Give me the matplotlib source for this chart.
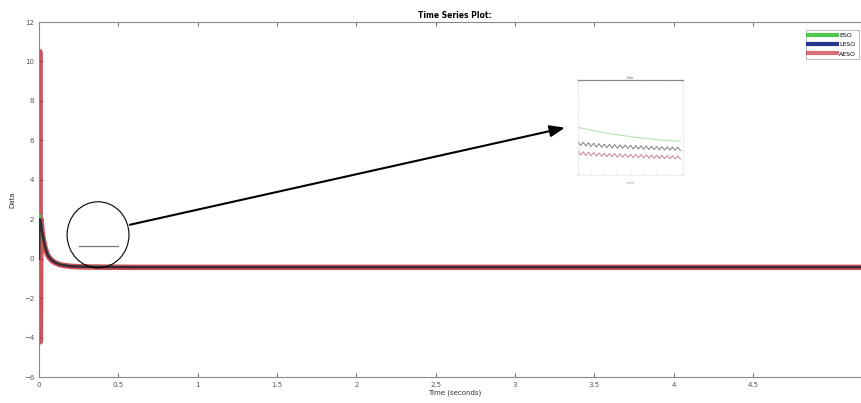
import numpy as np
from matplotlib import pyplot as plt
from matplotlib.patches import Ellipse

# main series (Time Series Plot)
t = [0.0, 0.004, 0.008, 0.012, 0.02, 0.03, 0.04, 0.05, 0.06, 0.08, 0.1, 0.13, 0.16, 0.2, 0.25, 0.3, 0.4, 0.6, 1.0, 2.0, 3.0, 4.0, 5.3]
eso = [0.0, 2.2, 2.1, 1.9, 1.4, 0.95, 0.6, 0.35, 0.15, -0.05, -0.17, -0.27, -0.33, -0.37, -0.39, -0.4, -0.41, -0.42, -0.42, -0.42, -0.42, -0.42, -0.42]
leso = [0.0, 2.0, 2.0, 1.85, 1.35, 0.9, 0.55, 0.3, 0.12, -0.07, -0.19, -0.29, -0.34, -0.38, -0.4, -0.41, -0.42, -0.43, -0.43, -0.43, -0.43, -0.43, -0.43]
aeso = [-4.2, 10.5, -4.2, 2.0, 1.3, 0.85, 0.5, 0.27, 0.1, -0.09, -0.2, -0.3, -0.35, -0.39, -0.41, -0.42, -0.43, -0.44, -0.44, -0.44, -0.44, -0.44, -0.44]

# zoomed inset (arbitrary units)
ins_x = np.arange(40)
ins_eso = [0.50, 0.495, 0.49, 0.484, 0.478, 0.472, 0.466, 0.46, 0.455, 0.45, 0.445, 0.44, 0.436, 0.432, 0.428, 0.424, 0.42, 0.416, 0.412, 0.408,
           0.404, 0.40, 0.397, 0.394, 0.391, 0.388, 0.385, 0.382, 0.379, 0.376, 0.373, 0.37, 0.368, 0.366, 0.364, 0.362, 0.36, 0.358, 0.356, 0.354]
ins_leso = [0.35, 0.31, 0.345, 0.305, 0.34, 0.30, 0.335, 0.295, 0.33, 0.29, 0.325, 0.288, 0.322, 0.285, 0.32, 0.282, 0.318, 0.28, 0.315, 0.278,
            0.312, 0.275, 0.31, 0.273, 0.308, 0.271, 0.305, 0.269, 0.303, 0.267, 0.30, 0.265, 0.298, 0.263, 0.296, 0.262, 0.294, 0.26, 0.292, 0.258]
ins_aeso = [0.25, 0.21, 0.245, 0.205, 0.24, 0.202, 0.236, 0.199, 0.233, 0.196, 0.23, 0.193, 0.227, 0.191, 0.225, 0.189, 0.223, 0.187, 0.221, 0.185,
            0.219, 0.183, 0.217, 0.181, 0.215, 0.179, 0.213, 0.177, 0.211, 0.175, 0.209, 0.174, 0.207, 0.172, 0.205, 0.171, 0.204, 0.169, 0.202, 0.168]

xticks = [0, 0.5, 1, 1.5, 2, 2.5, 3, 3.5, 4, 4.5]
xticklabels = ["0", "0.5", "1", "1.5", "2", "2.5", "3", "3.5", "4", "4.5"]
yticks = [-6, -4, -2, 0, 2, 4, 6, 8, 10, 12]

green = "#4fc84f"
blue = "#27348b"
red = "#c8323c"

fig = plt.figure(figsize=(8.61, 4.03), dpi=100)
ax = fig.add_axes([39/861, 26/403, 831/861, 355/403])

ax.plot(t, aeso, color=red, lw=4, alpha=0.85, zorder=2)
ax.plot(t, eso, color=green, lw=1.5, zorder=3)
ax.plot(t, leso, color="#3a2638", lw=1.8, zorder=4)

ax.set_xlim(0, 831/158.7)
ax.set_ylim(-6, 12)
ax.set_xticks(xticks)
ax.set_xticklabels(xticklabels)
ax.set_yticks(yticks)
ax.tick_params(direction="in", top=True, right=True, labelsize=5, colors="#555555", length=3, width=0.6)
for s in ax.spines.values():
    s.set_color("#888888")
    s.set_linewidth(0.8)

ax.set_title("Time Series Plot:", fontsize=5.5, fontweight="bold", pad=3)
ax.set_xlabel("Time (seconds)", fontsize=5, labelpad=1, color="#333333")
ax.set_ylabel("Data", fontsize=5, labelpad=6, color="#333333")

# legend (proxy lines)
h1, = ax.plot([], [], color=green, lw=3, label="ESO")
h2, = ax.plot([], [], color=blue, lw=3, label="LESO")
h3, = ax.plot([], [], color=red, lw=3, alpha=0.7, label="AESO")
leg = ax.legend(handles=[h1, h2, h3], loc="upper right", bbox_to_anchor=(0.99, 0.985), fontsize=4.5,
                frameon=True, fancybox=False, edgecolor="#999999", handlelength=4.5,
                borderpad=0.4, labelspacing=0.6, handletextpad=0.4)
leg.get_frame().set_linewidth(0.6)

# ellipse marking the zoomed region
ax.add_patch(Ellipse((0.372, 1.21), 0.39, 3.35, fill=False, edgecolor="black", lw=0.8, zorder=5))
ax.plot([0.25, 0.5], [0.65, 0.65], color="#777777", lw=0.9, zorder=5)

# arrow to inset
ax.annotate("", xy=(3.314, 6.64), xytext=(0.573, 1.72),
            arrowprops=dict(arrowstyle="-|>,head_length=0.9,head_width=0.35", color="black", lw=1.5,
                            shrinkA=0, shrinkB=0))

# inset
axi = fig.add_axes([578/861, 228/403, 105/861, 95/403])
axi.plot(ins_x, ins_eso, color="#a8e0a8", lw=0.7)
axi.plot(ins_x, ins_leso, color="#6a6a80", lw=0.6)
axi.plot(ins_x, ins_aeso, color="#c87080", lw=0.6)
axi.set_xlim(0, 40)
axi.set_ylim(0, 1)
axi.set_xticks(np.arange(0, 41, 5))
axi.set_yticks([0, 0.25, 0.5, 0.75, 1])
axi.tick_params(direction="in", top=True, right=True, labelsize=2, colors="#bbbbbb", length=1.2, width=0.3)
axi.set_xticklabels([])
axi.set_yticklabels([])
for s in axi.spines.values():
    s.set_color("#e0e0e0")
    s.set_linewidth(0.4)
axi.spines["top"].set_color("#888888")
axi.spines["top"].set_linewidth(0.9)
axi.set_title("title", fontsize=2.5, pad=0.5, color="#555555")
axi.set_xlabel("time", fontsize=2.5, labelpad=0.5, color="#999999")

plt.savefig("out.png", dpi=100)
plt.close()
